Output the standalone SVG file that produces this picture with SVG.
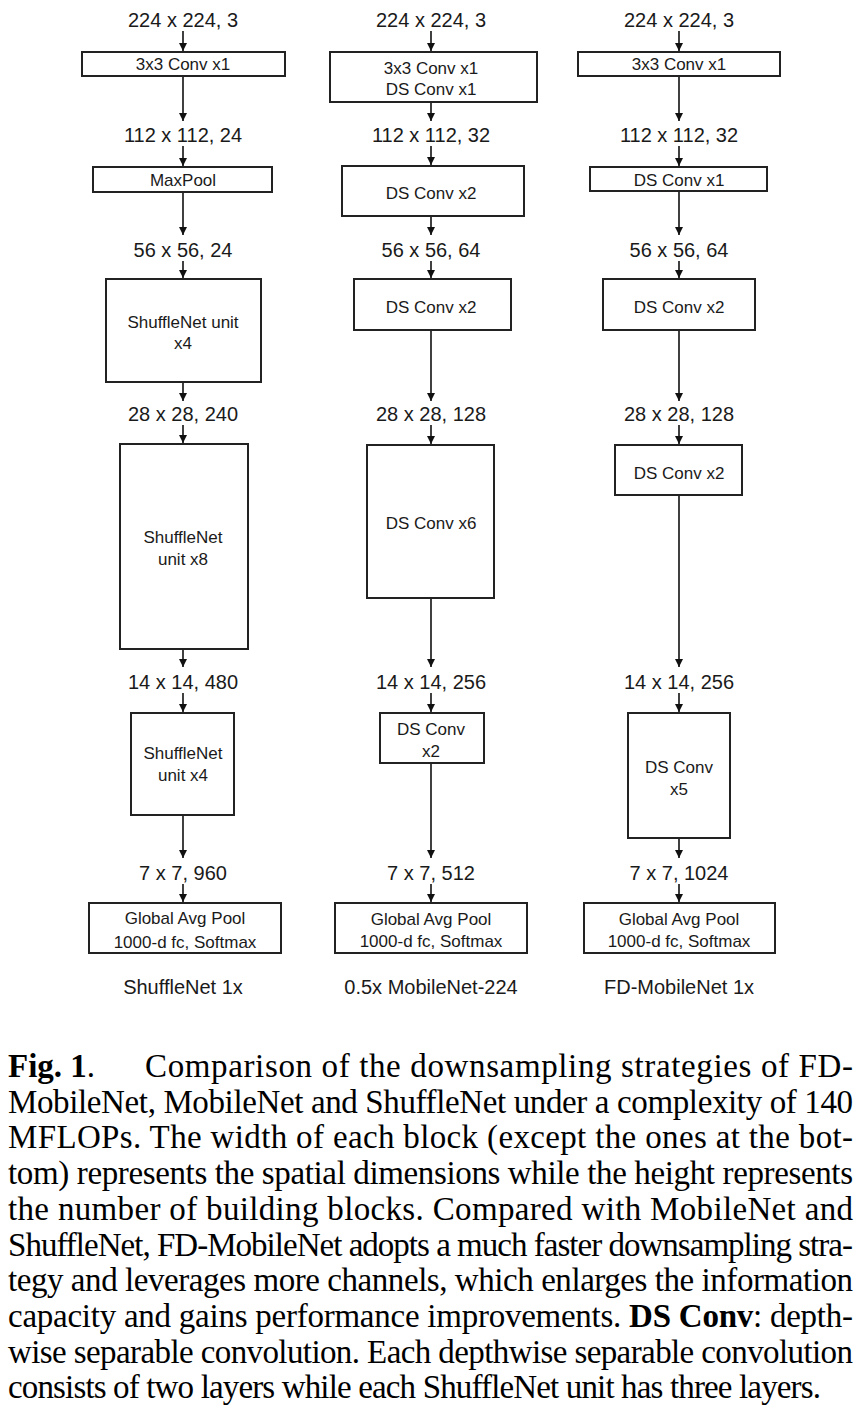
<svg xmlns="http://www.w3.org/2000/svg" width="863" height="1411" viewBox="0 0 863 1411">
<defs>
<marker id="ah" markerUnits="userSpaceOnUse" markerWidth="10" markerHeight="10" refX="8" refY="4" orient="auto">
<path d="M0,0 L8,4 L0,8 Z" fill="#111"/>
</marker>
<style>
.bx{fill:#fff;stroke:#222;stroke-width:2}
.dim{font-family:"Liberation Sans",Arial,sans-serif;font-size:20px;fill:#1a1a1a;text-anchor:middle}
.lb{font-family:"Liberation Sans",Arial,sans-serif;font-size:17px;fill:#1a1a1a;text-anchor:middle}
.ar{stroke:#111;stroke-width:1.6;fill:none;marker-end:url(#ah)}
.cap{font-family:"Liberation Serif","Times New Roman",serif;font-size:33px;fill:#000}
.b{font-weight:bold}
</style>
</defs>
<rect width="863" height="1411" fill="#fff"/>

<g id="labels">
<text class="dim" x="183" y="27">224 x 224, 3</text>
<text class="dim" x="431" y="27">224 x 224, 3</text>
<text class="dim" x="679" y="27">224 x 224, 3</text>
<text class="dim" x="183" y="142">112 x 112, 24</text>
<text class="dim" x="431" y="142">112 x 112, 32</text>
<text class="dim" x="679" y="142">112 x 112, 32</text>
<text class="dim" x="183" y="257">56 x 56, 24</text>
<text class="dim" x="431" y="257">56 x 56, 64</text>
<text class="dim" x="679" y="257">56 x 56, 64</text>
<text class="dim" x="183" y="421">28 x 28, 240</text>
<text class="dim" x="431" y="421">28 x 28, 128</text>
<text class="dim" x="679" y="421">28 x 28, 128</text>
<text class="dim" x="183" y="689">14 x 14, 480</text>
<text class="dim" x="431" y="689">14 x 14, 256</text>
<text class="dim" x="679" y="689">14 x 14, 256</text>
<text class="dim" x="183" y="880">7 x 7, 960</text>
<text class="dim" x="431" y="880">7 x 7, 512</text>
<text class="dim" x="679" y="880">7 x 7, 1024</text>
<text class="dim" x="183" y="994">ShuffleNet 1x</text>
<text class="dim" x="431" y="994">0.5x MobileNet-224</text>
<text class="dim" x="679" y="994">FD-MobileNet 1x</text>
</g>

<g id="col1">
<g id="s1"><rect class="bx" x="82" y="52" width="203" height="24"/><text class="lb" x="183" y="70">3x3 Conv x1</text></g>
<g id="s2"><rect class="bx" x="93" y="167" width="179" height="25"/><text class="lb" x="183" y="186">MaxPool</text></g>
<g id="s3"><rect class="bx" x="106" y="279" width="155" height="103"/><text class="lb" x="183" y="328">ShuffleNet unit</text><text class="lb" x="183" y="349">x4</text></g>
<g id="s4"><rect class="bx" x="120" y="444" width="128" height="205"/><text class="lb" x="183" y="543">ShuffleNet</text><text class="lb" x="183" y="565">unit x8</text></g>
<g id="s5"><rect class="bx" x="131" y="713" width="103" height="102"/><text class="lb" x="183" y="759">ShuffleNet</text><text class="lb" x="183" y="781">unit x4</text></g>
<g id="s6"><rect class="bx" x="89" y="903" width="192" height="50"/><text class="lb" x="185" y="924">Global Avg Pool</text><text class="lb" x="185" y="948">1000-d fc, Softmax</text></g>
</g>

<g id="col2">
<g id="m1"><rect class="bx" x="330" y="52" width="207" height="50"/><text class="lb" x="431" y="74">3x3 Conv x1</text><text class="lb" x="431" y="95">DS Conv x1</text></g>
<g id="m2"><rect class="bx" x="342" y="166" width="182" height="50"/><text class="lb" x="431" y="199">DS Conv x2</text></g>
<g id="m3"><rect class="bx" x="354" y="279" width="157" height="51"/><text class="lb" x="431" y="313">DS Conv x2</text></g>
<g id="m4"><rect class="bx" x="367" y="445" width="127" height="153"/><text class="lb" x="431" y="529">DS Conv x6</text></g>
<g id="m5"><rect class="bx" x="380" y="713" width="104" height="50"/><text class="lb" x="431" y="735">DS Conv</text><text class="lb" x="431" y="757">x2</text></g>
<g id="m6"><rect class="bx" x="335" y="903" width="192" height="50"/><text class="lb" x="431" y="925">Global Avg Pool</text><text class="lb" x="431" y="947">1000-d fc, Softmax</text></g>
</g>

<g id="col3">
<g id="f1"><rect class="bx" x="578" y="52" width="202" height="24"/><text class="lb" x="679" y="70">3x3 Conv x1</text></g>
<g id="f2"><rect class="bx" x="590" y="167" width="177" height="24"/><text class="lb" x="679" y="186">DS Conv x1</text></g>
<g id="f3"><rect class="bx" x="603" y="279" width="152" height="51"/><text class="lb" x="679" y="313">DS Conv x2</text></g>
<g id="f4"><rect class="bx" x="615" y="445" width="127" height="50"/><text class="lb" x="679" y="479">DS Conv x2</text></g>
<g id="f5"><rect class="bx" x="628" y="713" width="102" height="125"/><text class="lb" x="679" y="773">DS Conv</text><text class="lb" x="679" y="795">x5</text></g>
<g id="f6"><rect class="bx" x="584" y="903" width="191" height="50"/><text class="lb" x="679" y="925">Global Avg Pool</text><text class="lb" x="679" y="947">1000-d fc, Softmax</text></g>
</g>

<g id="connectors">
<line class="ar" x1="183" y1="31" x2="183" y2="51"/>
<line class="ar" x1="183" y1="77" x2="183" y2="121"/>
<line class="ar" x1="183" y1="146" x2="183" y2="166"/>
<line class="ar" x1="183" y1="193" x2="183" y2="235"/>
<line class="ar" x1="183" y1="261" x2="183" y2="278"/>
<line class="ar" x1="183" y1="383" x2="183" y2="401"/>
<line class="ar" x1="183" y1="425" x2="183" y2="443"/>
<line class="ar" x1="183" y1="650" x2="183" y2="667"/>
<line class="ar" x1="183" y1="693" x2="183" y2="712"/>
<line class="ar" x1="183" y1="816" x2="183" y2="858"/>
<line class="ar" x1="183" y1="884" x2="183" y2="902"/>

<line class="ar" x1="431" y1="31" x2="431" y2="51"/>
<line class="ar" x1="431" y1="103" x2="431" y2="121"/>
<line class="ar" x1="431" y1="146" x2="431" y2="165"/>
<line class="ar" x1="431" y1="217" x2="431" y2="235"/>
<line class="ar" x1="431" y1="261" x2="431" y2="278"/>
<line class="ar" x1="431" y1="331" x2="431" y2="401"/>
<line class="ar" x1="431" y1="425" x2="431" y2="444"/>
<line class="ar" x1="431" y1="599" x2="431" y2="667"/>
<line class="ar" x1="431" y1="693" x2="431" y2="712"/>
<line class="ar" x1="431" y1="764" x2="431" y2="858"/>
<line class="ar" x1="431" y1="884" x2="431" y2="902"/>

<line class="ar" x1="679" y1="31" x2="679" y2="51"/>
<line class="ar" x1="679" y1="77" x2="679" y2="121"/>
<line class="ar" x1="679" y1="146" x2="679" y2="166"/>
<line class="ar" x1="679" y1="192" x2="679" y2="235"/>
<line class="ar" x1="679" y1="261" x2="679" y2="278"/>
<line class="ar" x1="679" y1="331" x2="679" y2="401"/>
<line class="ar" x1="679" y1="425" x2="679" y2="444"/>
<line class="ar" x1="679" y1="496" x2="679" y2="667"/>
<line class="ar" x1="679" y1="693" x2="679" y2="712"/>
<line class="ar" x1="679" y1="839" x2="679" y2="858"/>
<line class="ar" x1="679" y1="884" x2="679" y2="902"/>
</g>

<g id="caption" class="cap">
<text x="8" y="1077"><tspan class="b">Fig. 1</tspan>.</text>
<text x="145" y="1077" textLength="708" lengthAdjust="spacing">Comparison of the downsampling strategies of FD-</text>
<text x="8" y="1113" textLength="845" lengthAdjust="spacing">MobileNet, MobileNet and ShuffleNet under a complexity of 140</text>
<text x="8" y="1148" textLength="845" lengthAdjust="spacing">MFLOPs.  The width of each block (except the ones at the bot-</text>
<text x="8" y="1184" textLength="845" lengthAdjust="spacing">tom) represents the spatial dimensions while the height represents</text>
<text x="8" y="1220" textLength="845" lengthAdjust="spacing">the number of building blocks.  Compared with MobileNet and</text>
<text x="8" y="1256" textLength="845" lengthAdjust="spacing">ShuffleNet, FD-MobileNet adopts a much faster downsampling stra-</text>
<text x="8" y="1291" textLength="845" lengthAdjust="spacing">tegy and leverages more channels, which enlarges the information</text>
<text x="8" y="1327" textLength="845" lengthAdjust="spacing">capacity and gains performance improvements.  <tspan class="b">DS Conv</tspan>:  depth-</text>
<text x="8" y="1363" textLength="845" lengthAdjust="spacing">wise separable convolution.  Each depthwise separable convolution</text>
<text x="8" y="1398" textLength="813" lengthAdjust="spacing">consists of two layers while each ShuffleNet unit has three layers.</text>
</g>
</svg>
